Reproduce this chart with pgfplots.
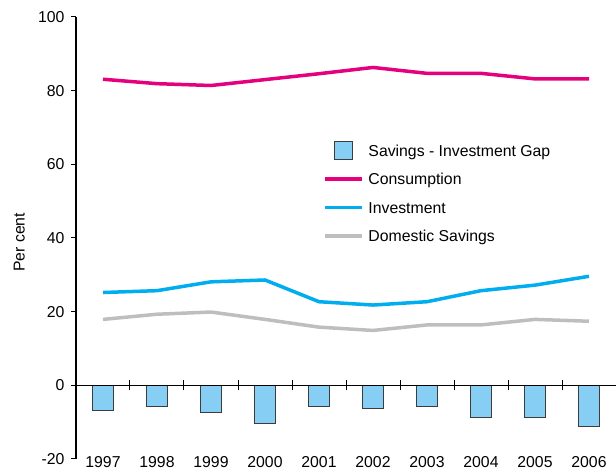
\documentclass[border=0pt]{standalone}
\usepackage{fontspec}
\setmainfont{Liberation Sans}
\usepackage{pgfplots}
\pgfplotsset{compat=1.18}
\definecolor{cons}{HTML}{E5007D}
\definecolor{inv}{HTML}{00AEEF}
\definecolor{sav}{HTML}{BEBEBE}
\definecolor{gapfill}{HTML}{87CEF5}
\definecolor{gapdraw}{HTML}{3C3C3C}
\pgfplotsset{
  linelegend/.style={legend image code/.code={\draw[##1] (0bp,0bp) -- (37bp,0bp);}},
  barlegend/.style={legend image code/.code={\draw[##1] (9.5bp,-9bp) rectangle (27.5bp,9bp);}},
}
\begin{document}
\begin{tikzpicture}[font=\fontsize{15.8bp}{18bp}\selectfont]
\begin{axis}[name=ax, scale only axis, width=540bp, height=442bp,
  xmin=-0.5, xmax=9.5, ymin=-20, ymax=100,
  axis y line=left, axis x line=bottom,
  x axis line style={draw=none},
  y axis line style={line width=1.1bp, -},
  ytick={-20,0,20,40,60,80,100},
  yticklabels={-20,0,20,40,60,80,100},
  ytick align=outside, major tick length=5bp,
  ytick style={line width=1bp, black},
  xtick={0,1,2,3,4,5,6,7,8,9},
  xticklabels={1997,1998,1999,2000,2001,2002,2003,2004,2005,2006},
  xtick style={draw=none},
  xticklabel style={yshift=9bp},
  yticklabel style={xshift=-3bp},
  ylabel={Per cent},
  ylabel style={at={(axis description cs:-0.105,0.49)}, anchor=center},
  legend style={at={(0.457,0.72)}, anchor=north west, draw=none, fill=none,
    inner sep=0pt, row sep=9bp, column sep=4bp,
    nodes={inner xsep=1bp, inner ysep=4bp, text height=11.5bp, text depth=0bp}},
  legend cell align=left,
]
\addplot[ybar, bar width=0.4, fill=gapfill, draw=gapdraw, line width=1bp, barlegend]
  coordinates {(0,-6.7) (1,-5.8) (2,-7.3) (3,-10.3) (4,-5.8) (5,-6.4) (6,-5.8) (7,-8.8) (8,-8.8) (9,-11.3)};
\addlegendentry{Savings - Investment Gap}
\addplot[cons, line width=3.5bp, linelegend]
  coordinates {(0,83.1) (1,81.9) (2,81.4) (3,83.0) (4,84.6) (5,86.3) (6,84.7) (7,84.7) (8,83.2) (9,83.2)};
\addlegendentry{Consumption}
\addplot[inv, line width=3.5bp, linelegend]
  coordinates {(0,25.2) (1,25.7) (2,28.1) (3,28.6) (4,22.7) (5,21.8) (6,22.7) (7,25.7) (8,27.2) (9,29.6)};
\addlegendentry{Investment}
\addplot[sav, line width=3.5bp, linelegend]
  coordinates {(0,17.9) (1,19.3) (2,19.9) (3,17.9) (4,15.8) (5,14.9) (6,16.4) (7,16.4) (8,17.9) (9,17.4)};
\addlegendentry{Domestic Savings}
\addplot[black, line width=1.5bp, forget plot] coordinates {(-0.5,0) (9.5,0)};
\foreach \x in {0.5,1.5,2.5,3.5,4.5,5.5,6.5,7.5,8.5} {
  \edef\tmp{\noexpand\draw[black, line width=1bp] (axis cs:\x,-1.35) -- (axis cs:\x,1.35);}
  \tmp
}
\end{axis}
\pgfresetboundingbox
\path ([xshift=-76bp,yshift=-13bp]ax.south west) rectangle ([yshift=17bp]ax.north east);
\end{tikzpicture}
\end{document}
